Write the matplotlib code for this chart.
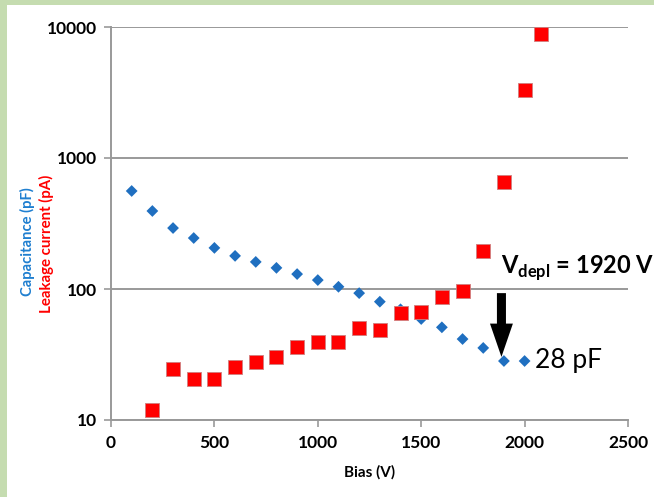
import numpy as np
import matplotlib.pyplot as plt
from matplotlib.patches import Rectangle

plt.rcParams['font.family'] = ['Lato', 'DejaVu Sans']
plt.rcParams['mathtext.fontset'] = 'custom'
plt.rcParams['mathtext.rm'] = 'Lato'
plt.rcParams['mathtext.bf'] = 'Lato:bold'

# bias voltage (V)
bias_cap = [100, 200, 300, 400, 500, 600, 700, 800, 900, 1000,
            1100, 1200, 1300, 1400, 1500, 1600, 1700, 1800, 1900, 2000]
capacitance = [560, 394, 292, 245, 206, 179, 161, 145, 130, 117,
               104, 93, 80, 70, 59, 51, 41.5, 35.5, 28.2, 28.2]

bias_leak = [200, 300, 400, 500, 600, 700, 800, 900, 1000, 1100,
             1200, 1300, 1400, 1500, 1600, 1700, 1800, 1900, 2000, 2080]
leakage = [11.9, 24.5, 20.6, 20.6, 25.4, 27.7, 30.3, 36, 39.4, 39.4,
           50.4, 48.6, 65.6, 66.7, 86.9, 96.6, 195, 656, 3300, 8850]

x_ticks = [0, 500, 1000, 1500, 2000, 2500]
y_ticks = [10, 100, 1000, 10000]

W, H = 654, 497
fig = plt.figure(figsize=(W / 100, H / 100), dpi=100)
fig.patch.set_facecolor('#c5dcb0')
# white panel inside the green frame
fig.patches.append(Rectangle((7 / W, 0), 1, 1 - 5 / H, transform=fig.transFigure,
                             facecolor='white', edgecolor='none', zorder=-10))

ax = fig.add_axes([111 / W, 1 - 420 / H, 517 / W, 393 / H])
ax.set_facecolor('none')

ax.scatter(bias_cap, capacitance, marker='D', s=36, color='#1f6fc0',
           edgecolors='none', zorder=3)
ax.scatter(bias_leak, leakage, marker='s', s=92, color='#ff0000',
           edgecolors='#d08080', linewidths=0.6, zorder=3)

ax.set_yscale('log')
ax.set_xlim(0, 2500)
ax.set_ylim(10, 10000)
ax.set_xticks(x_ticks)
ax.set_yticks(y_ticks)
ax.set_yticklabels([str(v) for v in y_ticks])
ax.minorticks_off()
ax.tick_params(axis='both', labelsize=12.5, color='#999999', length=5, width=1.2)
for lab in ax.get_xticklabels() + ax.get_yticklabels():
    lab.set_fontweight('bold')
ax.tick_params(axis='x', pad=6)
ax.tick_params(axis='y', pad=5)

ax.grid(axis='y', color='#999999', linewidth=1.4)
ax.set_axisbelow(True)
for side in ['top', 'right']:
    ax.spines[side].set_visible(False)
for side in ['left', 'bottom']:
    ax.spines[side].set_color('#999999')
    ax.spines[side].set_linewidth(1.4)

ax.set_xlabel('Bias (V)', fontsize=11, fontweight='bold', labelpad=10)

fig.text(27 / W, 1 - 242 / H, 'Capacitance (pF)', rotation=90, color='#1f7fd0',
         fontsize=10.6, fontweight='bold', ha='center', va='center')
fig.text(46 / W, 1 - 244 / H, 'Leakage current (pA)', rotation=90, color='#ff0000',
         fontsize=10.8, fontweight='bold', ha='center', va='center')

ax.text(1885, 145, r'V$_{\mathbf{depl}}$ = 1920 V', fontsize=17, fontweight='bold',
        ha='left', va='center')
ax.annotate('', xy=(1888, 30.3), xytext=(1888, 93),
            arrowprops=dict(facecolor='black', edgecolor='none', width=6.5,
                            headwidth=16.5, headlength=24, shrink=0))
ax.text(2050, 28.5, '28 pF', fontsize=19, ha='left', va='center')

fig.savefig('out.png', dpi=100, facecolor=fig.get_facecolor())
